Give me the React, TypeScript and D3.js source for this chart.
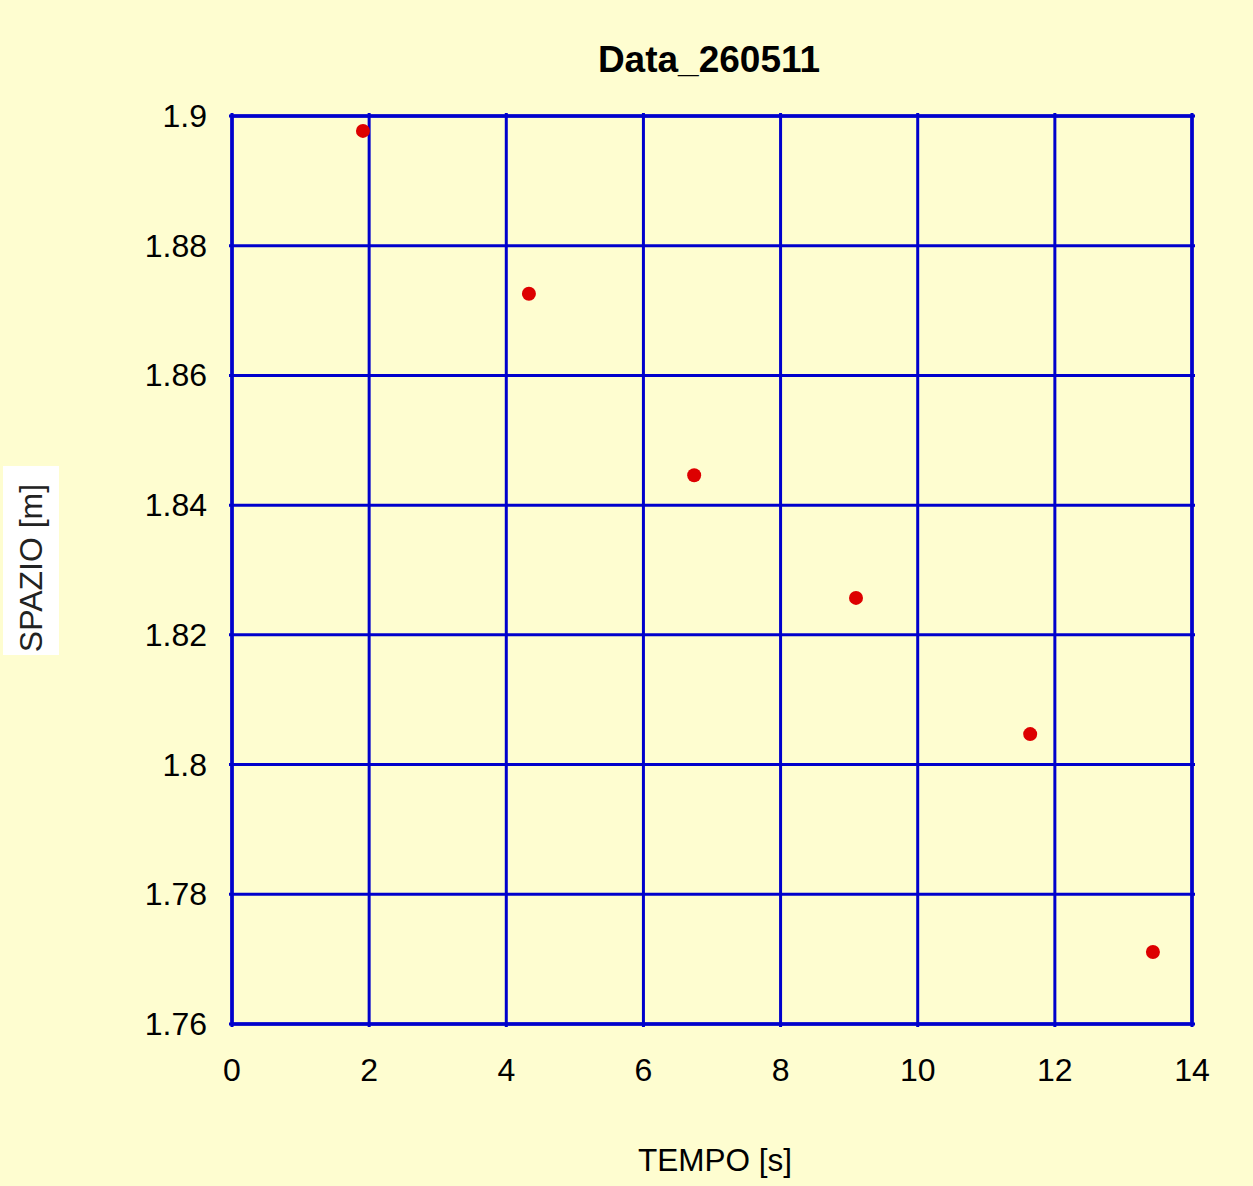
import React from "react";
import * as d3 from "d3";

const title = "Data_260511";
const xLabel = "TEMPO [s]";
const yLabel = "SPAZIO [m]";
const timeValues = [1.91, 4.33, 6.74, 9.1, 11.64, 13.43];
const spaceValues = [1.8977, 1.8726, 1.8446, 1.8257, 1.8047, 1.7711];
const xTicks = [0, 2, 4, 6, 8, 10, 12, 14];
const yTicks = [1.76, 1.78, 1.8, 1.82, 1.84, 1.86, 1.88, 1.9];

const W = 1253;
const H = 1186;
const left = 232;
const right = 1192;
const top = 116;
const bottom = 1024;
const BLUE = "#0000cc";
const FONT = "'Liberation Sans', Arial, sans-serif";

export default function App() {
  const x = d3.scaleLinear().domain([0, 14]).range([left, right]);
  const y = d3.scaleLinear().domain([1.76, 1.9]).range([bottom, top]);
  return (
    <svg width={W} height={H} style={{ position: "absolute", left: 0, top: 0 }}>
      <rect x={0} y={0} width={W} height={H} fill="#fefdd0" />
      <text x={709} y={72} textAnchor="middle" fontFamily={FONT} fontWeight="bold" fontSize={37} fill="#000">
        {title}
      </text>
      {xTicks.map((t) => (
        <line key={"gx" + t} x1={x(t)} x2={x(t)} y1={top - 3} y2={bottom + 3} stroke={BLUE} strokeWidth={3} />
      ))}
      {yTicks.map((t) => (
        <line key={"gy" + t} x1={left - 3} x2={right + 3} y1={y(t)} y2={y(t)} stroke={BLUE} strokeWidth={3} />
      ))}
      <rect x={left} y={top} width={right - left} height={bottom - top} fill="none" stroke={BLUE} strokeWidth={3.5} />
      {xTicks.map((t) => (
        <text key={"tx" + t} x={x(t)} y={1081} textAnchor="middle" fontFamily={FONT} fontSize={32} fill="#000">
          {t}
        </text>
      ))}
      {yTicks.map((t) => (
        <text key={"ty" + t} x={207} y={y(t) + 11} textAnchor="end" fontFamily={FONT} fontSize={32} fill="#000">
          {d3.format("~g")(t)}
        </text>
      ))}
      {timeValues.map((tv, i) => (
        <circle key={"p" + i} cx={x(tv)} cy={y(spaceValues[i])} r={7} fill="#dd0000" />
      ))}
      <text x={715} y={1171} textAnchor="middle" fontFamily={FONT} fontSize={31.5} fill="#000">
        {xLabel}
      </text>
      <rect x={3} y={466} width={56} height={189} fill="#ffffff" />
      <text
        transform="translate(42,568) rotate(-90)"
        textAnchor="middle"
        fontFamily={FONT}
        fontSize={32}
        fill="#222"
      >
        {yLabel}
      </text>
    </svg>
  );
}
